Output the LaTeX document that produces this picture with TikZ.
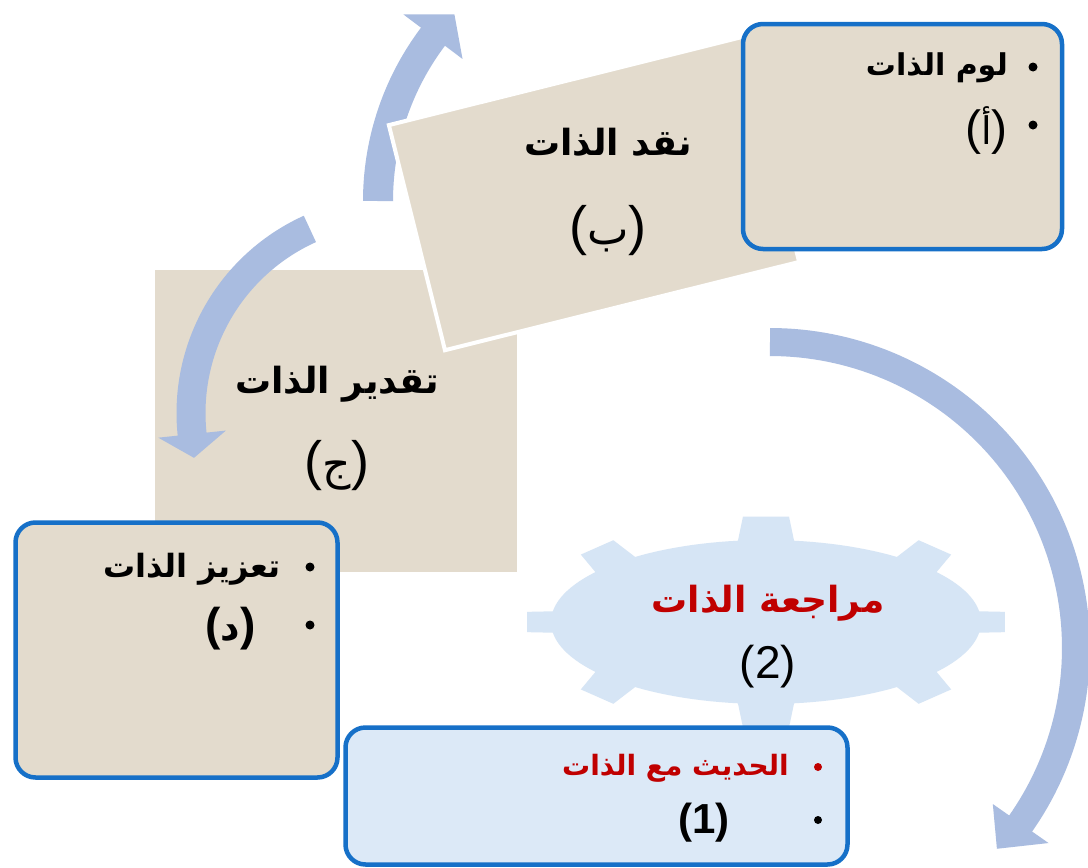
\documentclass[tikz,border=0pt]{standalone}
\usepackage{fontspec}
\setmainfont{Liberation Sans}
\newfontfamily\arab[Script=Arabic]{DejaVu Sans}
\TeXXeTstate=1
\definecolor{stone}{RGB}{227,219,205}
\definecolor{boxblue}{RGB}{22,112,200}
\definecolor{bandblue}{RGB}{169,188,224}
\definecolor{gearblue}{RGB}{214,229,245}
\definecolor{paleblue}{RGB}{220,233,247}
\definecolor{darkred}{RGB}{192,0,0}
\begin{document}
\begin{tikzpicture}[x=1pt,y=-1pt,
  panel/.style={rectangle, rounded corners=20pt, draw=boxblue, line width=4.5pt, inner sep=0pt},
  slab/.style={rectangle, fill=stone, inner sep=0pt},
  band/.style={draw=bandblue, line cap=butt},
  head/.style={fill=bandblue},
  dot/.style={circle, fill=black, inner sep=0pt, minimum size=9pt},
  title/.style={inner sep=0pt, anchor=base, font=\arab\bfseries\fontsize{36}{42}\selectfont},
  item/.style={inner sep=0pt, anchor=base east, font=\arab\bfseries\fontsize{30}{36}\selectfont},
  paren/.style={inner sep=0pt, anchor=center}
]
\useasboundingbox (0,0) rectangle (1088,868);
\fill[white] (0,0) rectangle (1088,868);

% square (c)
\node[slab, minimum width=362pt, minimum height=302pt] (sqc) at (336,421) {};

% curved arrows
\draw[band, line width=30pt] plot[domain=180:217.5, samples=40] ({651+273*cos(\x)},{201+273*sin(\x)});
\fill[head] ({651+236*cos(217)},{201+236*sin(217)}) -- ({651+271*cos(223.5)},{201+271*sin(223.5)}) -- ({651+310*cos(217)},{201+310*sin(217)}) -- cycle;

\draw[band, line width=29pt] plot[domain=245.7:173.5, samples=60] ({393+202*cos(\x)},{413+202*sin(\x)});
\fill[head] ({393+168*cos(174)},{413+168*sin(174)}) -- ({393+204*cos(167.3)},{413+204*sin(167.3)}) -- ({393+236*cos(174)},{413+236*sin(174)}) -- cycle;

\draw[band, line width=28pt] plot[domain=-90:35.5, samples=90] ({770+306*cos(\x)},{648+306*sin(\x)});
\fill[head] ({770+272*cos(35)},{648+272*sin(35)}) -- ({770+303*cos(41.5)},{648+303*sin(41.5)}) -- ({770+340*cos(35)},{648+340*sin(35)}) -- cycle;

% tilted slab (b)
\node[slab, draw=white, line width=4pt, rotate=14, minimum width=365pt, minimum height=232pt] (rb) at (594,193.5) {};

% panels a and d
\node[panel, fill=stone, minimum width=319pt, minimum height=225pt] (pa) at (902.5,136.5) {};
\node[panel, fill=stone, minimum width=322pt, minimum height=255pt] (pd) at (176.5,650) {};

% gear
\fill[gearblue] ({766+215*cos(-7.5)},{622+82*sin(-7.5)})
  \foreach \a in {0,45,...,315}{
    -- ({766+215*cos(\a-7.5)},{622+82*sin(\a-7.5)})
    -- ({766+240*cos(\a-5.5)},{622+106*sin(\a-5.5)})
    -- ({766+240*cos(\a+5.5)},{622+106*sin(\a+5.5)})
    -- ({766+215*cos(\a+7.5)},{622+82*sin(\a+7.5)})
    \foreach \b in {10,12.5,...,37.5}{ -- ({766+215*cos(\a+\b)},{622+82*sin(\a+\b)}) }
  } -- cycle;
\node[inner sep=0pt] (gear) at (766,622) {};

% panel 1
\node[panel, fill=paleblue, minimum width=502pt, minimum height=137pt] (p1) at (596.5,796) {};

% texts
\node[title] (tb) at (608,155) {\beginR نقد الذات\endR};
\node[paren] (lb) at (608,231) {{\fontsize{54}{56}\selectfont (}{\arab\fontsize{44}{50}\selectfont ب}{\fontsize{54}{56}\selectfont )}};

\node[title] (tc) at (337,393) {\beginR تقدير الذات\endR};
\node[paren] (lc) at (337,466) {{\fontsize{54}{56}\selectfont (}{\arab\fontsize{44}{50}\selectfont ج}{\fontsize{54}{56}\selectfont )}};

\node[title, text=darkred] (tg) at (768,612) {\beginR مراجعة الذات\endR};
\node[paren, font=\fontsize{46}{50}\selectfont] (lg) at (768,667) {(2)};

\node[dot] (a1) at (1033,67) {};
\node[dot] (a2) at (1033,125) {};
\node[item] (ta) at (1008,75) {\beginR لوم الذات\endR};
\node[paren] (la) at (986.5,130) {{\fontsize{48}{50}\selectfont (}{\arab\fontsize{38}{44}\selectfont أ}{\fontsize{48}{50}\selectfont )}};

\node[dot] (d1) at (310,567) {};
\node[dot] (d2) at (310,625) {};
\node[item, font=\arab\bfseries\fontsize{32}{38}\selectfont] (td) at (281,577) {\beginR تعزيز الذات\endR};
\node[paren] (ld) at (230.5,628.5) {{\bfseries\fontsize{46}{50}\selectfont (}{\arab\bfseries\fontsize{38}{44}\selectfont د}{\bfseries\fontsize{46}{50}\selectfont )}};

\node[dot, fill=darkred, minimum size=8pt] (o1) at (818,767) {};
\node[dot, minimum size=8pt] (o2) at (818,820) {};
\node[item, text=darkred, font=\arab\bfseries\fontsize{28}{34}\selectfont] (t1) at (789,775) {\beginR الحديث مع الذات\endR};
\node[paren, font=\bfseries\fontsize{42}{50}\selectfont] (l1) at (704,823) {(1)};
\end{tikzpicture}
\end{document}
